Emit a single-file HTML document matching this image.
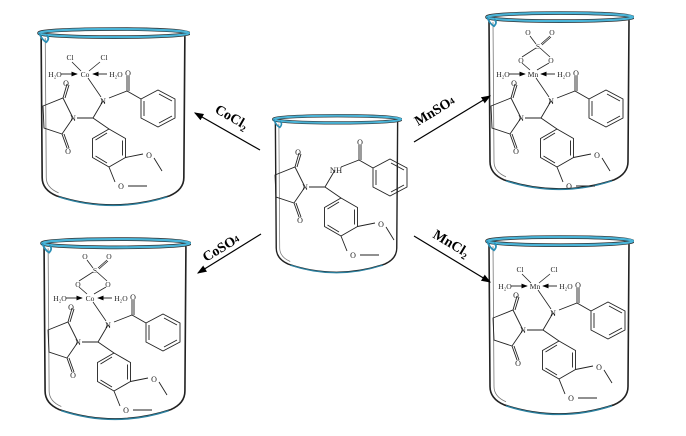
<!DOCTYPE html>
<html><head><meta charset="utf-8"><style>
html,body{margin:0;padding:0;background:#fff}
svg{display:block}
text{font-family:"Liberation Serif",serif}
</style></head><body>
<svg width="686" height="436" viewBox="0 0 686 436" xmlns="http://www.w3.org/2000/svg">
<defs>
<symbol id="bk" viewBox="0 0 150 180" preserveAspectRatio="none">
  <path d="M5,10 L6,150 Q6,162 20,168 Q75,186 130,168 Q144,162 144,150 L145,10" fill="none" stroke="#222" stroke-width="1.6"/>
  <path d="M9,12 L10,150 Q10,160 22,165" fill="none" stroke="#777" stroke-width="0.8"/>
  <path d="M22,169 Q75,186 128,169" fill="none" stroke="#2a7f9e" stroke-width="1.4"/>
  <ellipse cx="76" cy="7" rx="73" ry="4" fill="none" stroke="#333" stroke-width="3.6"/>
  <ellipse cx="76" cy="7" rx="73" ry="4" fill="none" stroke="#49b4d8" stroke-width="2.2"/>
  <path d="M3,7 Q6,14 10,16 Q14,12 10,9" fill="none" stroke="#2a8fb5" stroke-width="1.8"/>
</symbol>
<marker id="ah" markerWidth="8" markerHeight="6" refX="7" refY="3" orient="auto"><path d="M0,0 L8,3 L0,6 z" fill="#000"/></marker>
<g id="lig" fill="none" stroke="#222" stroke-width="0.9">
  <path d="M-22,24 L-12,44 L-23,60 L-41,54 L-42,32 Z"/>
  <path d="M-22,24 L-18,10 M-20,24 L-16,11"/>
  <path d="M-23,60 L-18,74 M-21,60 L-16,74"/>
  <path d="M-8,44 L8,44 L18,27 M8,44 L24,55"/>
  <path d="M24,24 L42,17 L56,25 M42,17 L42,2 M44,17 L44,2"/>
  <path d="M56,25 L73,16 L90,25 L90,44 L73,53 L56,44 Z M74,20 L87,27 M87,42 L74,49 M59,42 L59,27"/>
  <path d="M24,55 L40.5,64.5 L40.5,83.5 L24,93 L7.5,83.5 L7.5,64.5 Z M37.5,66.5 L37.5,81.5 M22,89 L10.5,82 M10.5,66 L22,59"/>
  <path d="M40.5,83.5 L58,80 M69,84 L77,97 M24,93 L30,108 M43,112 L62,112"/>
</g>
<g id="ligtext" font-size="8" fill="#222">
  <text x="-19" y="12" text-anchor="middle">O</text>
  <text x="-17" y="80" text-anchor="middle">O</text>
  <text x="-12" y="47" text-anchor="middle">N</text>
  <text x="43" y="2" text-anchor="middle">O</text>
  <text x="64" y="84" text-anchor="middle">O</text>
  <text x="36" y="115" text-anchor="middle">O</text>
</g>
</defs>

<use href="#bk" x="36" y="26" width="154" height="182"/>
<use href="#bk" x="271" y="113" width="131" height="162"/>
<use href="#bk" x="484" y="10" width="150" height="182"/>
<use href="#bk" x="39" y="236" width="152" height="186"/>
<use href="#bk" x="484" y="234" width="150" height="183"/>

<g transform="translate(317,143)">
  <use href="#lig"/><use href="#ligtext"/>
  <text x="19" y="30" font-size="8.5" text-anchor="middle" fill="#222">NH</text>
</g>

<g transform="translate(85,74)">
  <use href="#lig"/><use href="#ligtext"/>
  <text x="18" y="30" font-size="8" text-anchor="middle">N</text>
  <g stroke="#222" stroke-width="0.8" fill="none"><path d="M3,4 L16,23 M-4,-3 L-13,-12 M4,-3 L15,-12"/></g>
  <path d="M-24,0 L-8,0" stroke="#000" stroke-width="0.8" marker-end="url(#ah)"/>
  <path d="M22,0 L8,0" stroke="#000" stroke-width="0.8" marker-end="url(#ah)"/>
  <g font-size="7.5" fill="#222"><text x="-15" y="-14" text-anchor="middle">Cl</text><text x="19" y="-14" text-anchor="middle">Cl</text>
  <text x="-30" y="3" text-anchor="middle">H₂O</text><text x="0" y="3" text-anchor="middle">Co</text><text x="31" y="3" text-anchor="middle">H₂O</text></g>
</g>
<g transform="translate(535,286)">
  <use href="#lig"/><use href="#ligtext"/>
  <text x="18" y="30" font-size="8" text-anchor="middle">N</text>
  <g stroke="#222" stroke-width="0.8" fill="none"><path d="M3,4 L16,23 M-4,-3 L-13,-12 M4,-3 L15,-12"/></g>
  <path d="M-24,0 L-8,0" stroke="#000" stroke-width="0.8" marker-end="url(#ah)"/>
  <path d="M22,0 L8,0" stroke="#000" stroke-width="0.8" marker-end="url(#ah)"/>
  <g font-size="7.5" fill="#222"><text x="-15" y="-14" text-anchor="middle">Cl</text><text x="19" y="-14" text-anchor="middle">Cl</text>
  <text x="-30" y="3" text-anchor="middle">H₂O</text><text x="0" y="3" text-anchor="middle">Mn</text><text x="31" y="3" text-anchor="middle">H₂O</text></g>
</g>

<g transform="translate(533,74)">
  <use href="#lig"/><use href="#ligtext"/>
  <text x="18" y="30" font-size="8" text-anchor="middle">N</text>
  <g stroke="#222" stroke-width="0.8" fill="none"><path d="M3,4 L16,23 M-3,-4 L-11,-11 M4,-4 L16,-11 M-11,-17 L3,-26 M17,-17 L7,-26 M3,-30 L-3,-38 M8,-30 L17,-38 M9,-29 L18,-37"/></g>
  <path d="M-24,0 L-8,0" stroke="#000" stroke-width="0.8" marker-end="url(#ah)"/>
  <path d="M22,0 L8,0" stroke="#000" stroke-width="0.8" marker-end="url(#ah)"/>
  <g font-size="7.5" fill="#222"><text x="-12" y="-11" text-anchor="middle">O</text><text x="18" y="-11" text-anchor="middle">O</text>
  <text x="5" y="-25" text-anchor="middle">S</text><text x="-5" y="-39" text-anchor="middle">O</text><text x="19" y="-39" text-anchor="middle">O</text>
  <text x="-30" y="3" text-anchor="middle">H₂O</text><text x="0" y="3" text-anchor="middle">Mn</text><text x="31" y="3" text-anchor="middle">H₂O</text></g>
</g>
<g transform="translate(90,298)">
  <use href="#lig"/><use href="#ligtext"/>
  <text x="18" y="30" font-size="8" text-anchor="middle">N</text>
  <g stroke="#222" stroke-width="0.8" fill="none"><path d="M3,4 L16,23 M-3,-4 L-11,-11 M4,-4 L16,-11 M-11,-17 L3,-26 M17,-17 L7,-26 M3,-30 L-3,-38 M8,-30 L17,-38 M9,-29 L18,-37"/></g>
  <path d="M-24,0 L-8,0" stroke="#000" stroke-width="0.8" marker-end="url(#ah)"/>
  <path d="M22,0 L8,0" stroke="#000" stroke-width="0.8" marker-end="url(#ah)"/>
  <g font-size="7.5" fill="#222"><text x="-12" y="-11" text-anchor="middle">O</text><text x="18" y="-11" text-anchor="middle">O</text>
  <text x="5" y="-25" text-anchor="middle">S</text><text x="-5" y="-39" text-anchor="middle">O</text><text x="19" y="-39" text-anchor="middle">O</text>
  <text x="-30" y="3" text-anchor="middle">H₂O</text><text x="0" y="3" text-anchor="middle">Co</text><text x="31" y="3" text-anchor="middle">H₂O</text></g>
</g>

<g stroke="#000" stroke-width="1.2" marker-end="url(#ah)">
  <line x1="260" y1="150" x2="195" y2="113"/>
  <line x1="414" y1="142" x2="490" y2="96"/>
  <line x1="261" y1="234" x2="198" y2="273"/>
  <line x1="414" y1="236" x2="490" y2="282"/>
</g>
<g font-size="14" font-weight="bold" fill="#000">
  <text transform="translate(214,112) rotate(30)">CoCl<tspan font-size="9" dy="3">2</tspan></text>
  <text transform="translate(418,126) rotate(-31)">MnSO<tspan font-size="9" dy="-1">4</tspan></text>
  <text transform="translate(206,262) rotate(-31)">CoSO<tspan font-size="9" dy="-1">4</tspan></text>
  <text transform="translate(432,237) rotate(31)">MnCl<tspan font-size="9" dy="3">2</tspan></text>
</g>
</svg>
</body></html>
